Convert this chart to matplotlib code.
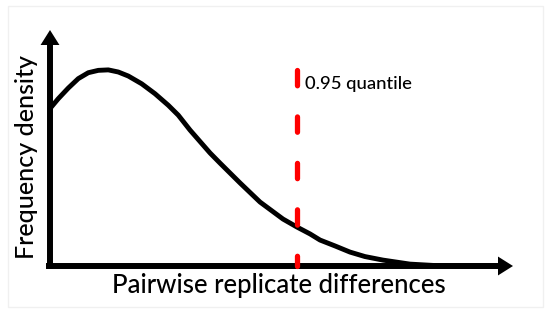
import numpy as np
import matplotlib
matplotlib.use('Agg')
import matplotlib.pyplot as plt
from matplotlib.patches import Rectangle

# Density curve (x: difference, y: density, both in axis units)
diff_x = [0.0, 0.0179, 0.0395, 0.0611, 0.0827, 0.1043, 0.1259, 0.1475, 0.1691,
          0.1981, 0.2268, 0.2555, 0.2771, 0.3024, 0.3456, 0.3672, 0.4104,
          0.4536, 0.5032, 0.5335, 0.5616, 0.5832, 0.6156, 0.6479, 0.6803,
          0.7192, 0.7775, 0.8315, 0.8855, 0.972]
density = [0.667, 0.709, 0.754, 0.794, 0.819, 0.829, 0.831, 0.822, 0.805,
           0.772, 0.730, 0.681, 0.639, 0.576, 0.479, 0.436, 0.352,
           0.271, 0.199, 0.165, 0.136, 0.110, 0.085, 0.059, 0.040,
           0.025, 0.008, 0.002, 0.0, 0.0]
q95 = 0.5335
q95_top = 0.83

xlabel = 'Pairwise replicate differences'
ylabel = 'Frequency density'
qlabel = '0.95 quantile'

plt.rcParams['font.family'] = ['Lato', 'DejaVu Sans']

W, H = 550, 315
fig = plt.figure(figsize=(W/100, H/100), dpi=100)
ax = fig.add_axes([50/W, 49/H, 463/W, 236/H])
ax.set_xlim(0, 1)
ax.set_ylim(0, 1)
ax.axis('off')

# faint frame
fig.patches.append(Rectangle((8/W, 8/H), 535/W, 301/H, transform=fig.transFigure,
                             fill=False, edgecolor='#f0f0f0', lw=1))

# axes with arrows
ax.plot([-0.0086, 0.975], [0, 0], color='black', lw=4.3, solid_capstyle='butt', clip_on=False)
ax.plot([0, 0], [-0.0125, 0.97], color='black', lw=4.3, solid_capstyle='butt', clip_on=False)
head = dict(arrowstyle='-|>,head_length=0.54,head_width=0.34', mutation_scale=20,
            color='black', lw=0, shrinkA=0, shrinkB=0)
ax.annotate('', xy=(1.0, 0), xytext=(0.9, 0), arrowprops=head, annotation_clip=False)
ax.annotate('', xy=(0, 1.0), xytext=(0, 0.9), arrowprops=head, annotation_clip=False)

# density curve
ax.plot(diff_x, density, color='black', lw=3.5, solid_joinstyle='round',
        solid_capstyle='round', clip_on=False)

# quantile line
ax.plot([q95, q95], [q95_top, 0], color='#ff0000', lw=3.8, dashes=(2.9, 5.9),
        dash_capstyle='round', clip_on=False)

fig.text(305/W, 1 - 84/H, qlabel, fontsize=13.3, fontweight='medium', ha='left', va='center')
fig.text(279/W, 1 - 285/H, xlabel, fontsize=18.5, fontweight='medium', ha='center', va='center')
fig.text(27/W, 1 - 157/H, ylabel, fontsize=18, fontweight='medium', ha='center', va='center',
         rotation=90)

fig.savefig('out.png', dpi=100)
